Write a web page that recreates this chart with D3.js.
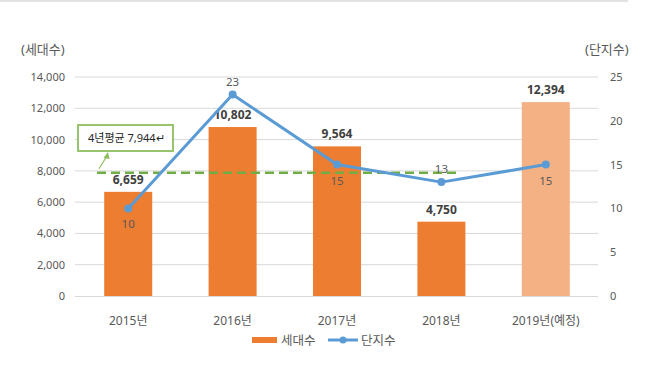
<!DOCTYPE html>
<html><head><meta charset="utf-8">
<script src="https://cdn.jsdelivr.net/npm/d3@7"></script>
<style>body{margin:0;background:#fff}svg{display:block}text{font-family:"Noto Sans","Noto Sans CJK KR",sans-serif}</style>
</head><body>
<svg id="c" width="652" height="382"></svg>
<script>
const categories = ["2015년","2016년","2017년","2018년","2019년(예정)"];
const households = [6659,10802,9564,4750,12394];
const complexes = [10,23,15,13,15];
const leftTicks = [0,2000,4000,6000,8000,10000,12000,14000];
const rightTicks = [0,5,10,15,20,25];
const average = 7944;
const lineLabelPos = ["below","above","below","above","below"];

const svg = d3.select("#c");
const x = d3.scaleBand().domain(categories).range([76,598]).paddingInner(0.54).paddingOuter(0.27);
const yL = d3.scaleLinear().domain([0,14000]).range([296,77]);
const yR = d3.scaleLinear().domain([0,25]).range([296,77]);
const gray="#595959";
const numFont = "'Noto Sans','DejaVu Sans',sans-serif";

svg.append("line").attr("x1",0).attr("x2",628).attr("y1",1).attr("y2",1).attr("stroke","#d9d9d9").attr("stroke-width",1.5);

// gridlines
svg.append("g").selectAll("line").data(leftTicks.slice(1)).join("line")
 .attr("x1",75).attr("x2",598).attr("y1",d=>yL(d)).attr("y2",d=>yL(d))
 .attr("stroke","#d9d9d9").attr("stroke-width",1);

// left axis
const gl = svg.append("g").attr("transform","translate(75,0)")
 .call(d3.axisLeft(yL).tickValues(leftTicks).tickFormat(d3.format(",")).tickSize(0).tickPadding(10));
gl.select(".domain").remove();
gl.selectAll("text").attr("fill",gray).style("font-size","11px").style("font-family",numFont);

// right axis
const gr = svg.append("g").attr("transform","translate(598,0)")
 .call(d3.axisRight(yR).tickValues(rightTicks).tickSize(0).tickPadding(12));
gr.select(".domain").remove();
gr.selectAll("text").attr("fill",gray).style("font-size","11px").style("font-family",numFont);

// axis titles
svg.append("text").attr("x",21).attr("y",54).attr("fill",gray).style("font-size","13px").text("(세대수)");
svg.append("text").attr("x",585).attr("y",54).attr("fill",gray).style("font-size","13px").text("(단지수)");

// bars
svg.append("g").selectAll("rect").data(households).join("rect")
 .attr("x",(d,i)=>x(categories[i])).attr("width",x.bandwidth())
 .attr("y",d=>yL(d)).attr("height",d=>yL(0)-yL(d))
 .attr("fill",(d,i)=>i===4?"#F4B183":"#ED7D31");

// baseline
svg.append("line").attr("x1",75).attr("x2",598).attr("y1",296.5).attr("y2",296.5).attr("stroke","#d9d9d9");

// bar labels
svg.append("g").selectAll("text").data(households).join("text")
 .attr("x",(d,i)=>x(categories[i])+x.bandwidth()/2).attr("y",d=>yL(d)-8)
 .attr("text-anchor","middle").attr("fill","#404040").style("font-weight","bold").style("font-size","12px")
 .style("font-family",numFont).text(d3.format(","));

// x labels
svg.append("g").selectAll("text").data(categories).join("text")
 .attr("x",d=>x(d)+x.bandwidth()/2).attr("y",325).attr("text-anchor","middle")
 .attr("fill",gray).style("font-size","12px").text(d=>d);

// average dashed line
svg.append("line").attr("x1",97).attr("x2",460).attr("y1",yL(average)+1).attr("y2",yL(average)+1)
 .attr("stroke","#70AD47").attr("stroke-width",2.5).attr("stroke-dasharray","9,5");

// callout
svg.append("line").attr("x1",99).attr("y1",yL(average)-3).attr("x2",107).attr("y2",156).attr("stroke","#8DBE5E").attr("stroke-width",1.2);
svg.append("path").attr("d","M108,152 L103.5,158 L109.5,159 Z").attr("fill","#8DBE5E");
svg.append("rect").attr("x",78).attr("y",125).attr("width",95).attr("height",26).attr("fill","#fff").attr("stroke","#8DBE5E").attr("stroke-width",1.8);
svg.append("text").attr("x",88).attr("y",142).attr("fill","#262626").style("font-size","11px").text("4년평균  7,944↵");

// line
const cx = (d,i)=>x(categories[i])+x.bandwidth()/2;
svg.append("path").datum(complexes).attr("fill","none").attr("stroke","#5B9BD5").attr("stroke-width",3)
 .attr("stroke-linejoin","round")
 .attr("d",d3.line().x(cx).y(d=>yR(d)));
svg.append("g").selectAll("circle").data(complexes).join("circle")
 .attr("cx",cx).attr("cy",d=>yR(d)).attr("r",4).attr("fill","#5B9BD5");
svg.append("g").selectAll("text").data(complexes).join("text")
 .attr("x",cx).attr("y",(d,i)=>lineLabelPos[i]==="below"?yR(d)+20:yR(d)-9)
 .attr("text-anchor","middle").attr("fill",gray).style("font-size","11.5px")
 .style("font-family",numFont).text(d=>d);

// legend
svg.append("rect").attr("x",252).attr("y",337).attr("width",25).attr("height",6).attr("fill","#ED7D31");
svg.append("text").attr("x",281).attr("y",345).attr("fill",gray).style("font-size","12.5px").text("세대수");
svg.append("line").attr("x1",328).attr("x2",358).attr("y1",340).attr("y2",340).attr("stroke","#5B9BD5").attr("stroke-width",3);
svg.append("circle").attr("cx",343).attr("cy",340).attr("r",3.5).attr("fill","#5B9BD5");
svg.append("text").attr("x",361).attr("y",345).attr("fill",gray).style("font-size","12.5px").text("단지수");
</script>
</body></html>
